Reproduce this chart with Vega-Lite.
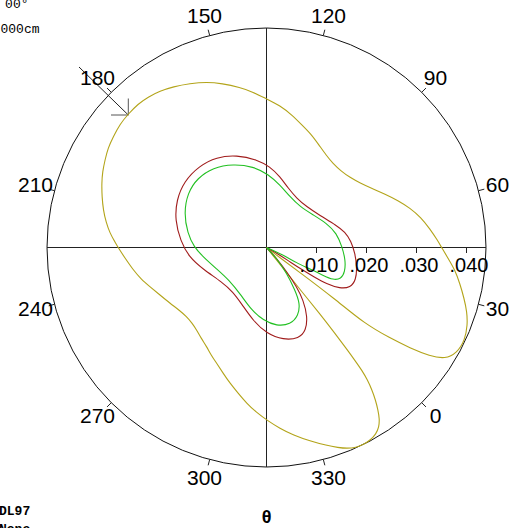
{
  "$schema": "https://vega.github.io/schema/vega-lite/v6.json",
  "width": 514,
  "height": 528,
  "autosize": "none",
  "padding": 0,
  "background": "white",
  "config": {"view": {"stroke": null}},
  "datasets": {
    "curves": [
      {"s":"olive","i":1,"x":0,"y":0},
      {"s":"olive","i":2,"x":0.0033,"y":-0.0025},
      {"s":"olive","i":3,"x":0.0067,"y":-0.005},
      {"s":"olive","i":4,"x":0.0137,"y":-0.0103},
      {"s":"olive","i":5,"x":0.0197,"y":-0.0153},
      {"s":"olive","i":6,"x":0.0247,"y":-0.0181},
      {"s":"olive","i":7,"x":0.0287,"y":-0.0201},
      {"s":"olive","i":8,"x":0.0327,"y":-0.0217},
      {"s":"olive","i":9,"x":0.0357,"y":-0.0223},
      {"s":"olive","i":10,"x":0.0381,"y":-0.0211},
      {"s":"olive","i":11,"x":0.0397,"y":-0.0185},
      {"s":"olive","i":12,"x":0.0402,"y":-0.0155},
      {"s":"olive","i":13,"x":0.0401,"y":-0.0129},
      {"s":"olive","i":14,"x":0.0395,"y":-0.0101},
      {"s":"olive","i":15,"x":0.0387,"y":-0.0073},
      {"s":"olive","i":16,"x":0.0377,"y":-0.0045},
      {"s":"olive","i":17,"x":0.0364,"y":-0.0023},
      {"s":"olive","i":18,"x":0.0352,"y":-0.0003},
      {"s":"olive","i":19,"x":0.0341,"y":0.0016},
      {"s":"olive","i":20,"x":0.0327,"y":0.0037},
      {"s":"olive","i":21,"x":0.0309,"y":0.006},
      {"s":"olive","i":22,"x":0.0287,"y":0.0079},
      {"s":"olive","i":23,"x":0.0263,"y":0.0094},
      {"s":"olive","i":24,"x":0.0237,"y":0.0107},
      {"s":"olive","i":25,"x":0.0211,"y":0.0118},
      {"s":"olive","i":26,"x":0.0187,"y":0.0129},
      {"s":"olive","i":27,"x":0.0167,"y":0.014},
      {"s":"olive","i":28,"x":0.0149,"y":0.0153},
      {"s":"olive","i":29,"x":0.0133,"y":0.0168},
      {"s":"olive","i":30,"x":0.0119,"y":0.0185},
      {"s":"olive","i":31,"x":0.0105,"y":0.0205},
      {"s":"olive","i":32,"x":0.0089,"y":0.0227},
      {"s":"olive","i":33,"x":0.0071,"y":0.0245},
      {"s":"olive","i":34,"x":0.0051,"y":0.0265},
      {"s":"olive","i":35,"x":0.0027,"y":0.0284},
      {"s":"olive","i":36,"x":0.00004,"y":0.0297},
      {"s":"olive","i":37,"x":-0.0027,"y":0.0311},
      {"s":"olive","i":38,"x":-0.0053,"y":0.032},
      {"s":"olive","i":39,"x":-0.0089,"y":0.0328},
      {"s":"olive","i":40,"x":-0.01196,"y":0.0331},
      {"s":"olive","i":41,"x":-0.0153,"y":0.0328},
      {"s":"olive","i":42,"x":-0.01864,"y":0.03216},
      {"s":"olive","i":43,"x":-0.0213,"y":0.0313},
      {"s":"olive","i":44,"x":-0.0237,"y":0.0301},
      {"s":"olive","i":45,"x":-0.0257,"y":0.0287},
      {"s":"olive","i":46,"x":-0.02764,"y":0.0267},
      {"s":"olive","i":47,"x":-0.0293,"y":0.0247},
      {"s":"olive","i":48,"x":-0.03064,"y":0.02216},
      {"s":"olive","i":49,"x":-0.0317,"y":0.0199},
      {"s":"olive","i":50,"x":-0.0323,"y":0.0175},
      {"s":"olive","i":51,"x":-0.0328,"y":0.0151},
      {"s":"olive","i":52,"x":-0.03296,"y":0.01284},
      {"s":"olive","i":53,"x":-0.0329,"y":0.0101},
      {"s":"olive","i":54,"x":-0.03264,"y":0.0075},
      {"s":"olive","i":55,"x":-0.0321,"y":0.0051},
      {"s":"olive","i":56,"x":-0.0313,"y":0.00284},
      {"s":"olive","i":57,"x":-0.0303,"y":0.0011},
      {"s":"olive","i":58,"x":-0.0295,"y":-0.0003},
      {"s":"olive","i":59,"x":-0.0283,"y":-0.0021},
      {"s":"olive","i":60,"x":-0.02664,"y":-0.0045},
      {"s":"olive","i":61,"x":-0.0251,"y":-0.0063},
      {"s":"olive","i":62,"x":-0.0233,"y":-0.00784},
      {"s":"olive","i":63,"x":-0.0213,"y":-0.0095},
      {"s":"olive","i":64,"x":-0.0193,"y":-0.01116},
      {"s":"olive","i":65,"x":-0.0175,"y":-0.0125},
      {"s":"olive","i":66,"x":-0.01596,"y":-0.01384},
      {"s":"olive","i":67,"x":-0.0149,"y":-0.0151},
      {"s":"olive","i":68,"x":-0.01396,"y":-0.0165},
      {"s":"olive","i":69,"x":-0.0131,"y":-0.0181},
      {"s":"olive","i":70,"x":-0.01196,"y":-0.01984},
      {"s":"olive","i":71,"x":-0.0111,"y":-0.0215},
      {"s":"olive","i":72,"x":-0.00996,"y":-0.02316},
      {"s":"olive","i":73,"x":-0.0087,"y":-0.0251},
      {"s":"olive","i":74,"x":-0.0073,"y":-0.02716},
      {"s":"olive","i":75,"x":-0.0057,"y":-0.0291},
      {"s":"olive","i":76,"x":-0.00396,"y":-0.03116},
      {"s":"olive","i":77,"x":-0.0021,"y":-0.0329},
      {"s":"olive","i":78,"x":0.00004,"y":-0.0345},
      {"s":"olive","i":79,"x":0.0027,"y":-0.0362},
      {"s":"olive","i":80,"x":0.00536,"y":-0.0375},
      {"s":"olive","i":81,"x":0.0087,"y":-0.0387},
      {"s":"olive","i":82,"x":0.01204,"y":-0.0396},
      {"s":"olive","i":83,"x":0.0143,"y":-0.04},
      {"s":"olive","i":84,"x":0.0161,"y":-0.0402},
      {"s":"olive","i":85,"x":0.0179,"y":-0.04},
      {"s":"olive","i":86,"x":0.0194,"y":-0.0394},
      {"s":"olive","i":87,"x":0.0208,"y":-0.0385},
      {"s":"olive","i":88,"x":0.0219,"y":-0.0373},
      {"s":"olive","i":89,"x":0.0225,"y":-0.0359},
      {"s":"olive","i":90,"x":0.0226,"y":-0.0343},
      {"s":"olive","i":91,"x":0.0223,"y":-0.0325},
      {"s":"olive","i":92,"x":0.0218,"y":-0.0305},
      {"s":"olive","i":93,"x":0.0211,"y":-0.0285},
      {"s":"olive","i":94,"x":0.0202,"y":-0.0265},
      {"s":"olive","i":95,"x":0.0191,"y":-0.0246},
      {"s":"olive","i":96,"x":0.0177,"y":-0.0226},
      {"s":"olive","i":97,"x":0.0161,"y":-0.0204},
      {"s":"olive","i":98,"x":0.0137,"y":-0.0172},
      {"s":"olive","i":99,"x":0.0107,"y":-0.0133},
      {"s":"olive","i":100,"x":0.0067,"y":-0.0084},
      {"s":"olive","i":101,"x":0.0033,"y":-0.0041},
      {"s":"olive","i":102,"x":0,"y":0},
      {"s":"red","i":1,"x":0,"y":0},
      {"s":"red","i":2,"x":0.0027,"y":-0.0015},
      {"s":"red","i":3,"x":0.0047,"y":-0.0029},
      {"s":"red","i":4,"x":0.00736,"y":-0.0046},
      {"s":"red","i":5,"x":0.00936,"y":-0.0058},
      {"s":"red","i":6,"x":0.01204,"y":-0.0073},
      {"s":"red","i":7,"x":0.0147,"y":-0.0082},
      {"s":"red","i":8,"x":0.0168,"y":-0.008},
      {"s":"red","i":9,"x":0.0179,"y":-0.0065},
      {"s":"red","i":10,"x":0.0181,"y":-0.00384},
      {"s":"red","i":11,"x":0.0177,"y":-0.00116},
      {"s":"red","i":12,"x":0.0169,"y":0.0013},
      {"s":"red","i":13,"x":0.0157,"y":0.0031},
      {"s":"red","i":14,"x":0.01404,"y":0.0044},
      {"s":"red","i":15,"x":0.0107,"y":0.0064},
      {"s":"red","i":16,"x":0.00804,"y":0.00816},
      {"s":"red","i":17,"x":0.00604,"y":0.00984},
      {"s":"red","i":18,"x":0.00436,"y":0.01184},
      {"s":"red","i":19,"x":0.0027,"y":0.01416},
      {"s":"red","i":20,"x":0.0007,"y":0.01616},
      {"s":"red","i":21,"x":-0.00196,"y":0.0176},
      {"s":"red","i":22,"x":-0.00596,"y":0.0185},
      {"s":"red","i":23,"x":-0.01,"y":0.0181},
      {"s":"red","i":24,"x":-0.0135,"y":0.0163},
      {"s":"red","i":25,"x":-0.0165,"y":0.0132},
      {"s":"red","i":26,"x":-0.0180,"y":0.0095},
      {"s":"red","i":27,"x":-0.0183,"y":0.0055},
      {"s":"red","i":28,"x":-0.0172,"y":0.0013},
      {"s":"red","i":29,"x":-0.0155,"y":-0.0019},
      {"s":"red","i":30,"x":-0.01264,"y":-0.0044},
      {"s":"red","i":31,"x":-0.0089,"y":-0.0069},
      {"s":"red","i":32,"x":-0.0067,"y":-0.0089},
      {"s":"red","i":33,"x":-0.00496,"y":-0.0113},
      {"s":"red","i":34,"x":-0.00264,"y":-0.0147},
      {"s":"red","i":35,"x":0.00004,"y":-0.0172},
      {"s":"red","i":36,"x":0.00336,"y":-0.0185},
      {"s":"red","i":37,"x":0.0065,"y":-0.0182},
      {"s":"red","i":38,"x":0.0079,"y":-0.0166},
      {"s":"red","i":39,"x":0.0082,"y":-0.01384},
      {"s":"red","i":40,"x":0.00736,"y":-0.0105},
      {"s":"red","i":41,"x":0.00604,"y":-0.00784},
      {"s":"red","i":42,"x":0.00404,"y":-0.00484},
      {"s":"red","i":43,"x":0.00204,"y":-0.00216},
      {"s":"red","i":44,"x":0,"y":0},
      {"s":"green","i":1,"x":0,"y":0},
      {"s":"green","i":2,"x":0.00336,"y":-0.0015},
      {"s":"green","i":3,"x":0.00604,"y":-0.0031},
      {"s":"green","i":4,"x":0.0087,"y":-0.00426},
      {"s":"green","i":5,"x":0.01136,"y":-0.0056},
      {"s":"green","i":6,"x":0.01336,"y":-0.0065},
      {"s":"green","i":7,"x":0.0149,"y":-0.0063},
      {"s":"green","i":8,"x":0.0157,"y":-0.0049},
      {"s":"green","i":9,"x":0.0158,"y":-0.0025},
      {"s":"green","i":10,"x":0.0151,"y":0.00016},
      {"s":"green","i":11,"x":0.01404,"y":0.00284},
      {"s":"green","i":12,"x":0.01204,"y":0.00484},
      {"s":"green","i":13,"x":0.00936,"y":0.0065},
      {"s":"green","i":14,"x":0.0067,"y":0.00816},
      {"s":"green","i":15,"x":0.0047,"y":0.01016},
      {"s":"green","i":16,"x":0.0027,"y":0.0125},
      {"s":"green","i":17,"x":0.00036,"y":0.01464},
      {"s":"green","i":18,"x":-0.00264,"y":0.0162},
      {"s":"green","i":19,"x":-0.00664,"y":0.0167},
      {"s":"green","i":20,"x":-0.0107,"y":0.016},
      {"s":"green","i":21,"x":-0.0138,"y":0.0139},
      {"s":"green","i":22,"x":-0.0158,"y":0.0109},
      {"s":"green","i":23,"x":-0.0165,"y":0.0068},
      {"s":"green","i":24,"x":-0.0158,"y":0.0029},
      {"s":"green","i":25,"x":-0.0145,"y":0.0001},
      {"s":"green","i":26,"x":-0.01264,"y":-0.0019},
      {"s":"green","i":27,"x":-0.00996,"y":-0.0043},
      {"s":"green","i":28,"x":-0.0075,"y":-0.0065},
      {"s":"green","i":29,"x":-0.0051,"y":-0.0095},
      {"s":"green","i":30,"x":-0.0031,"y":-0.0124},
      {"s":"green","i":31,"x":-0.00064,"y":-0.0146},
      {"s":"green","i":32,"x":0.00204,"y":-0.0157},
      {"s":"green","i":33,"x":0.0048,"y":-0.0154},
      {"s":"green","i":34,"x":0.0064,"y":-0.0136},
      {"s":"green","i":35,"x":0.0067,"y":-0.01116},
      {"s":"green","i":36,"x":0.0057,"y":-0.0085},
      {"s":"green","i":37,"x":0.00404,"y":-0.00516},
      {"s":"green","i":38,"x":0.00204,"y":-0.00216},
      {"s":"green","i":39,"x":0,"y":0}
    ],
    "lines": [
      {"x":-0.0439,"y":0,"x2":0.0439,"y2":0},
      {"x":0,"y":-0.0439,"x2":0,"y2":0.0439},
      {"x":0.01,"y":0,"x2":0.01,"y2":-0.0011},
      {"x":0.02,"y":0,"x2":0.02,"y2":-0.0011},
      {"x":0.03,"y":0,"x2":0.03,"y2":-0.0011},
      {"x":0.04,"y":0,"x2":0.04,"y2":-0.0011},
      {"x":0.03104,"y":-0.03104,"x2":0.03189,"y2":-0.03189},
      {"x":0.0424,"y":-0.01136,"x2":0.04356,"y2":-0.01167},
      {"x":0.0424,"y":0.01136,"x2":0.04356,"y2":0.01167},
      {"x":0.03104,"y":0.03104,"x2":0.03189,"y2":0.03189},
      {"x":0.01136,"y":0.0424,"x2":0.01167,"y2":0.04356},
      {"x":-0.01136,"y":0.0424,"x2":-0.01167,"y2":0.04356},
      {"x":-0.03104,"y":0.03104,"x2":-0.03189,"y2":0.03189},
      {"x":-0.0424,"y":0.01136,"x2":-0.04356,"y2":0.01167},
      {"x":-0.0424,"y":-0.01136,"x2":-0.04356,"y2":-0.01167},
      {"x":-0.03104,"y":-0.03104,"x2":-0.03189,"y2":-0.03189},
      {"x":-0.01136,"y":-0.0424,"x2":-0.01167,"y2":-0.04356},
      {"x":0.01136,"y":-0.0424,"x2":0.01167,"y2":-0.04356},
      {"x":-0.0375,"y":0.0361,"x2":-0.02764,"y2":0.0265}
    ],
    "arrowhead": [
      {"x":-0.02764,"y":0.0298,"x2":-0.02764,"y2":0.0265},
      {"x":-0.0311,"y":0.0265,"x2":-0.02764,"y2":0.0265}
    ],
    "angles": [
      {"t":"0","x":0.0338,"y":-0.0338},
      {"t":"30","x":0.0462,"y":-0.0124},
      {"t":"60","x":0.0462,"y":0.0124},
      {"t":"90","x":0.0338,"y":0.0338},
      {"t":"120","x":0.0124,"y":0.0462},
      {"t":"150","x":-0.0124,"y":0.0462},
      {"t":"180","x":-0.0338,"y":0.0338},
      {"t":"210","x":-0.0462,"y":0.0124},
      {"t":"240","x":-0.0462,"y":-0.0124},
      {"t":"270","x":-0.0338,"y":-0.0338},
      {"t":"300","x":-0.0124,"y":-0.0462},
      {"t":"330","x":0.0124,"y":-0.0462}
    ],
    "radial": [
      {"t":".010","x":0.0144,"y":-0.0036},
      {"t":".020","x":0.0244,"y":-0.0036},
      {"t":".030","x":0.0344,"y":-0.0036},
      {"t":".040","x":0.0444,"y":-0.0036}
    ],
    "corner": [
      {"t":"00°","x":-0.0476,"y":0.04784},
      {"t":"000cm","x":-0.0454,"y":0.04284}
    ],
    "bottom": [
      {"t":"DL97","x":-0.0535,"y":-0.0535},
      {"t":"None","x":-0.0535,"y":-0.0571}
    ],
    "theta": [
      {"t":"θ","x":0,"y":-0.05416}
    ],
    "circle": [
      {"x":0,"y":0,"r":0.0439}
    ]
  },
  "encoding": {
    "x": {"field":"x","type":"quantitative","scale":{"domain":[-0.0533,0.0495],"nice":false,"zero":false},"axis":null},
    "y": {"field":"y","type":"quantitative","scale":{"domain":[-0.0561,0.0495],"nice":false,"zero":false},"axis":null}
  },
  "layer": [
    {
      "data": {"name":"circle"},
      "mark": {"type":"arc","theta":0,"theta2":6.2832,"fillOpacity":0,"stroke":"#111","strokeWidth":1,"clip":false},
      "encoding": {
        "radius": {"field":"r","type":"quantitative","scale":{"type":"linear","domain":[0,0.01],"range":[0,50]},"legend":null}
      }
    },
    {
      "data": {"name":"lines"},
      "mark": {"type":"rule","color":"#222","strokeWidth":1},
      "encoding": {
        "x2": {"field":"x2"},
        "y2": {"field":"y2"}
      }
    },
    {
      "data": {"name":"arrowhead"},
      "mark": {"type":"rule","color":"#555","strokeWidth":1},
      "encoding": {
        "x2": {"field":"x2"},
        "y2": {"field":"y2"}
      }
    },
    {
      "data": {"name":"curves"},
      "mark": {"type":"line","interpolate":"basis","strokeWidth":1.1},
      "encoding": {
        "color": {"field":"s","type":"nominal","scale":{"domain":["olive","red","green"],"range":["#b3a41a","#a01c1c","#22c022"]},"legend":null},
        "order": {"field":"i","type":"quantitative"}
      }
    },
    {
      "data": {"name":"angles"},
      "mark": {"type":"text","font":"Liberation Sans","fontSize":21,"align":"center","baseline":"middle","color":"#000"},
      "encoding": {"text": {"field":"t"}}
    },
    {
      "data": {"name":"radial"},
      "mark": {"type":"text","font":"Liberation Sans","fontSize":20,"align":"right","baseline":"middle","color":"#000"},
      "encoding": {"text": {"field":"t"}}
    },
    {
      "data": {"name":"corner"},
      "mark": {"type":"text","font":"Liberation Mono","fontSize":13,"align":"right","baseline":"alphabetic","color":"#000"},
      "encoding": {"text": {"field":"t"}}
    },
    {
      "data": {"name":"bottom"},
      "mark": {"type":"text","font":"Liberation Mono","fontSize":13,"fontWeight":"bold","align":"left","baseline":"alphabetic","color":"#000"},
      "encoding": {"text": {"field":"t"}}
    },
    {
      "data": {"name":"theta"},
      "mark": {"type":"text","font":"Liberation Sans","fontSize":18,"fontWeight":"bold","align":"center","baseline":"middle","color":"#000"},
      "encoding": {"text": {"field":"t"}}
    }
  ]
}
